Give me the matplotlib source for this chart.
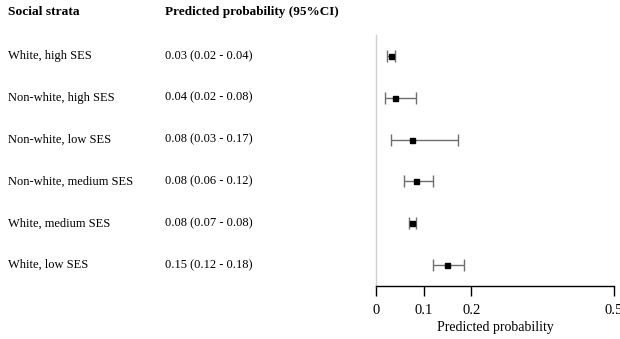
import matplotlib
matplotlib.use("Agg")
import matplotlib.pyplot as plt
import matplotlib.transforms as mtransforms
import numpy as np

strata = [
    "White, high SES",
    "Non-white, high SES",
    "Non-white, low SES",
    "Non-white, medium SES",
    "White, medium SES",
    "White, low SES",
]
ci_text = [
    "0.03 (0.02 - 0.04)",
    "0.04 (0.02 - 0.08)",
    "0.08 (0.03 - 0.17)",
    "0.08 (0.06 - 0.12)",
    "0.08 (0.07 - 0.08)",
    "0.15 (0.12 - 0.18)",
]
est = [0.031, 0.039, 0.075, 0.084, 0.075, 0.149]
lo = [0.024, 0.018, 0.032, 0.058, 0.069, 0.120]
hi = [0.039, 0.084, 0.172, 0.119, 0.084, 0.185]
xticks = [0, 0.1, 0.2, 0.5]

plt.rcParams["font.family"] = ["Liberation Serif", "DejaVu Serif"]

W, H = 620, 339
fig = plt.figure(figsize=(W / 100, H / 100), dpi=100)
ax = fig.add_axes([376 / W, 1 - 286 / H, (614 - 376) / W, (286 - 35) / H])

y = np.arange(len(strata))
est = np.array(est)
err = np.vstack([est - np.array(lo), np.array(hi) - est])
ax.errorbar(est, y, xerr=err, fmt="s", color="black", ms=3.6,
            ecolor="#6e6e6e", elinewidth=1, capsize=4.3, capthick=1)

ax.set_xlim(0, 0.5)
ax.set_ylim(5.5, -0.5)
ax.set_xticks(xticks)
ax.set_xticklabels(["0", "0.1", "0.2", "0.5"], fontsize=10.5)
ax.set_yticks([])
ax.set_xlabel("Predicted probability", fontsize=10, labelpad=3)
for s in ["top", "right"]:
    ax.spines[s].set_visible(False)
ax.spines["left"].set_color("#d0d0d0")
ax.spines["left"].set_linewidth(1)
ax.spines["bottom"].set_linewidth(1)
ax.tick_params(axis="x", direction="out", length=7, width=1, pad=6)

trans = mtransforms.blended_transform_factory(fig.transFigure, ax.transData)
for i in range(len(strata)):
    ax.text(8 / W, y[i], strata[i], transform=trans, ha="left", va="center",
            fontsize=9)
    ax.text(165 / W, y[i], ci_text[i], transform=trans, ha="left", va="center",
            fontsize=9)

fig.text(8 / W, 1 - 12 / H, "Social strata", ha="left", va="center",
         fontsize=9.7, fontweight="bold")
fig.text(165 / W, 1 - 12 / H, "Predicted probability (95%CI)", ha="left",
         va="center", fontsize=9.5, fontweight="bold")

fig.savefig("out.png", dpi=100)
